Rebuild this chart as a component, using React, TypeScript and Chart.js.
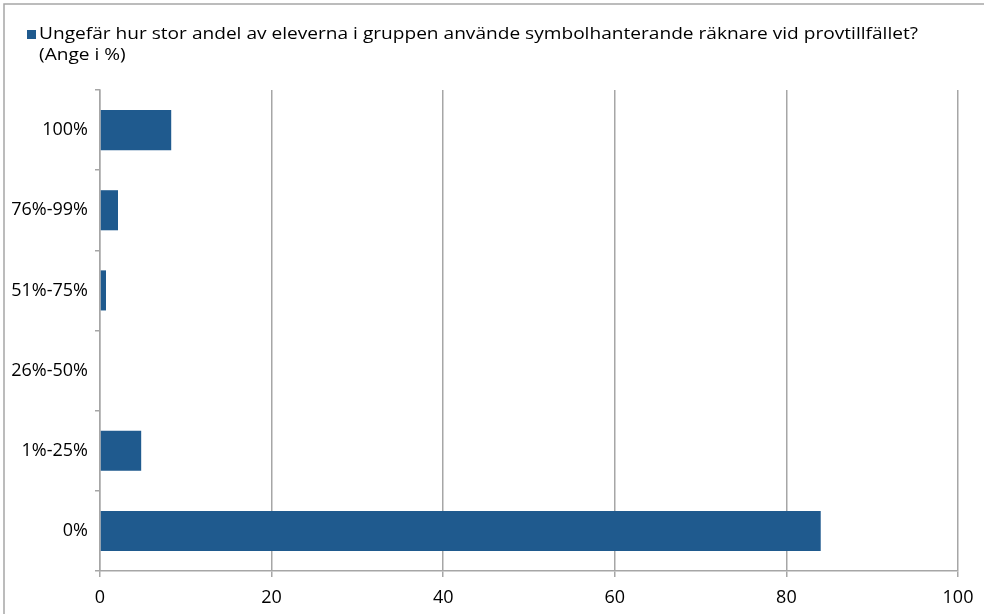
import React, { useEffect, useRef } from 'react';
import { Chart, registerables } from 'chart.js';

Chart.register(...registerables);

const categories = ['100%', '76%-99%', '51%-75%', '26%-50%', '1%-25%', '0%'];
const values = [8.3, 2.1, 0.7, 0, 4.8, 84.0];
const xTicks = [0, 20, 40, 60, 80, 100];
const legendLine1 = 'Ungefär hur stor andel av eleverna i gruppen använde symbolhanterande räknare vid provtillfället?';
const legendLine2 = '(Ange i %)';

const barColor = '#1f5a8e';
const gridColor = '#a6a6a6';
const fontFamily = "'Open Sans', sans-serif";

const frameLegendPlugin = {
  id: 'frameLegend',
  beforeDraw(chart: any) {
    const ctx = chart.ctx;
    ctx.save();
    ctx.fillStyle = '#ffffff';
    ctx.fillRect(0, 0, chart.width, chart.height);
    ctx.strokeStyle = gridColor;
    ctx.lineWidth = 1.5;
    ctx.beginPath();
    ctx.moveTo(4, chart.height);
    ctx.lineTo(4, 4);
    ctx.lineTo(chart.width, 4);
    ctx.stroke();
    ctx.restore();
  },
  afterDraw(chart: any) {
    const ctx = chart.ctx;
    ctx.save();
    ctx.fillStyle = barColor;
    ctx.fillRect(27, 30, 9, 9);
    ctx.fillStyle = '#000000';
    ctx.font = "16px 'Open Sans', sans-serif";
    ctx.textBaseline = 'alphabetic';
    ctx.textAlign = 'left';
    const w = ctx.measureText(legendLine1).width;
    const s = 879 / w;
    ctx.translate(39, 0);
    ctx.scale(s, 1);
    ctx.fillText(legendLine1, 0, 39);
    ctx.fillText(legendLine2, 0, 60);
    ctx.restore();
  },
};

export default function App() {
  const canvasRef = useRef<HTMLCanvasElement | null>(null);

  useEffect(() => {
    if (!canvasRef.current) return;
    const chart = new Chart(canvasRef.current, {
      type: 'bar',
      data: {
        labels: categories,
        datasets: [
          {
            label: legendLine1,
            data: values,
            backgroundColor: barColor,
            borderWidth: 0,
            barPercentage: 1,
            categoryPercentage: 0.5,
          },
        ],
      },
      options: {
        indexAxis: 'y',
        animation: false,
        responsive: false,
        maintainAspectRatio: false,
        layout: { padding: { top: 90, right: 26, left: 0, bottom: 0 } },
        plugins: {
          legend: { display: false },
          tooltip: { enabled: false },
        },
        scales: {
          x: {
            type: 'linear',
            position: 'bottom',
            min: xTicks[0],
            max: xTicks[xTicks.length - 1],
            afterBuildTicks: (scale: any) => {
              scale.ticks = xTicks.map((v) => ({ value: v }));
            },
            afterFit: (scale: any) => {
              scale.height = 43;
            },
            grid: { color: gridColor, lineWidth: 1.5, tickLength: 6, drawTicks: true },
            border: { color: gridColor, width: 1.5 },
            ticks: {
              color: '#000000',
              font: { family: fontFamily, size: 18 },
              padding: 10,
              maxRotation: 0,
            },
          },
          y: {
            type: 'category',
            afterFit: (scale: any) => {
              scale.width = 100;
            },
            grid: {
              display: true,
              drawOnChartArea: false,
              drawTicks: true,
              tickLength: 5,
              color: gridColor,
              lineWidth: 1.5,
              offset: true,
            },
            border: { color: gridColor, width: 1.5 },
            ticks: {
              color: '#000000',
              font: { family: fontFamily, size: 18 },
              padding: 7,
            },
          },
        },
      },
      plugins: [frameLegendPlugin],
    } as any);
    return () => chart.destroy();
  }, []);

  return (
    <div style={{ position: 'fixed', left: 0, top: 0, width: 984, height: 614, background: '#fff' }}>
      <canvas ref={canvasRef} width={984} height={614} style={{ display: 'block', width: 984, height: 614 }} />
    </div>
  );
}
